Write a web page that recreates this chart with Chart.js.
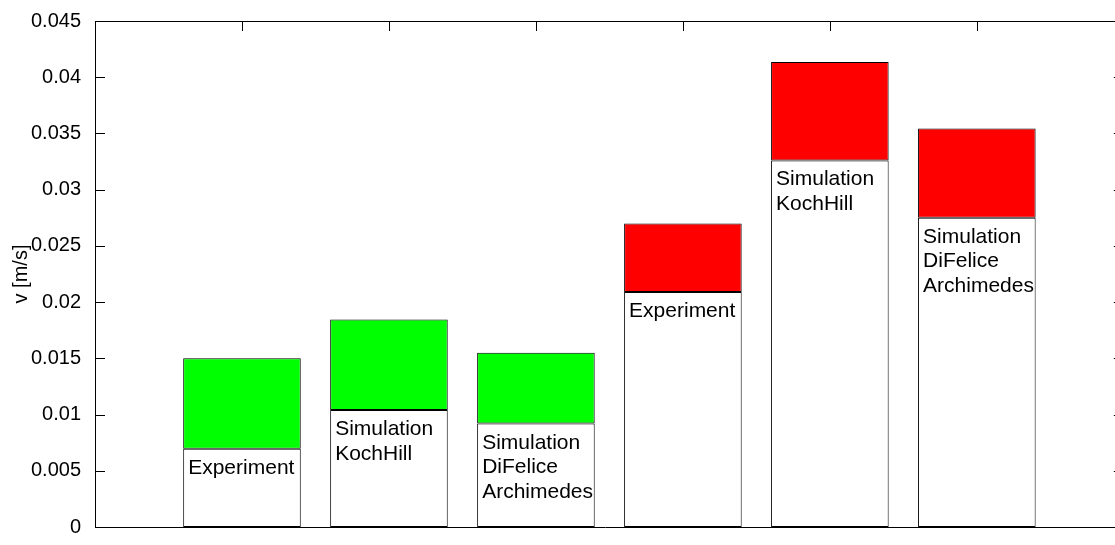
<!DOCTYPE html>
<html>
<head>
<meta charset="utf-8">
<script src="https://cdn.jsdelivr.net/npm/chart.js@4.4.0/dist/chart.umd.min.js"></script>
<style>
  html, body { margin: 0; padding: 0; background: #fff; overflow: hidden; }
  #wrap { width: 1115px; height: 545px; position: relative; }
  canvas { display: block; }
</style>
</head>
<body>
<div id="wrap"><canvas id="c" width="1115" height="545"></canvas></div>
<script>
// Bar positions along the x axis (axis runs from 0 to 7, right end just past the canvas)
const positions = [1, 2, 3, 4, 5, 6];

// Text written inside the lower (white) part of each bar
const barLabels = [
  ['Experiment'],
  ['Simulation', 'KochHill'],
  ['Simulation', 'DiFelice', 'Archimedes'],
  ['Experiment'],
  ['Simulation', 'KochHill'],
  ['Simulation', 'DiFelice', 'Archimedes']
];

// Lower and upper velocity bounds [m/s]
const lowerValues = [0.00695, 0.0104, 0.0092, 0.0209, 0.0326, 0.0275];
const upperValues = [0.0150, 0.01845, 0.0155, 0.0270, 0.04135, 0.03545];

// Fill of the range part: first group green, second group red
const rangeColors = ['#00ff00', '#00ff00', '#00ff00', '#ff0000', '#ff0000', '#ff0000'];

// Y tick labels
const yTickLabels = ['0', '0.005', '0.01', '0.015', '0.02', '0.025', '0.03', '0.035', '0.04', '0.045'];

const FONT = '"Liberation Sans", Arial, Helvetica, sans-serif';
const TICK_LEN = 10;

// Axes box decorations: top edge, inward ticks on all sides
const axesBox = {
  id: 'axesBox',
  beforeDatasetsDraw(chart) {
    const { ctx, chartArea: a, scales: { x, y } } = chart;
    ctx.save();
    ctx.strokeStyle = '#000';
    ctx.lineWidth = 1;
    ctx.beginPath();
    // top edge
    ctx.moveTo(a.left, Math.round(a.top) + 0.5);
    ctx.lineTo(a.right, Math.round(a.top) + 0.5);
    // x ticks at bar positions (top and bottom, pointing inward)
    positions.forEach(p => {
      const px = Math.round(x.getPixelForValue(p)) + 0.5;
      ctx.moveTo(px, a.top);
      ctx.lineTo(px, a.top + TICK_LEN);
      ctx.moveTo(px, a.bottom);
      ctx.lineTo(px, a.bottom - TICK_LEN);
    });
    // y ticks on left and right sides
    const rightAxis = x.getPixelForValue(7);
    yTickLabels.forEach((_, i) => {
      const py = Math.round(y.getPixelForValue(i * 0.005)) + 0.5;
      ctx.moveTo(a.left, py);
      ctx.lineTo(a.left + TICK_LEN, py);
      ctx.moveTo(rightAxis, py);
      ctx.lineTo(rightAxis - TICK_LEN, py);
    });
    ctx.stroke();
    ctx.restore();
  },
  afterDatasetsDraw(chart) {
    const { ctx, chartArea: a } = chart;
    const meta = chart.getDatasetMeta(0);
    ctx.save();
    ctx.fillStyle = '#000';
    ctx.font = '21px ' + FONT;
    ctx.textAlign = 'left';
    ctx.textBaseline = 'alphabetic';
    meta.data.forEach((bar, i) => {
      const left = bar.x - bar.width / 2 + 5;
      barLabels[i].forEach((line, j) => {
        ctx.fillText(line, left, bar.y + 25 + j * 24.5);
      });
    });
    // y axis title
    ctx.font = '20px ' + FONT;
    ctx.translate(21, (a.top + a.bottom) / 2);
    ctx.rotate(-Math.PI / 2);
    ctx.textAlign = 'center';
    ctx.textBaseline = 'middle';
    ctx.fillText('v [m/s]', 0, 0);
    ctx.restore();
  }
};

new Chart(document.getElementById('c'), {
  type: 'bar',
  data: {
    datasets: [
      {
        label: 'lower',
        data: positions.map((p, i) => ({ x: p, y: lowerValues[i] })),
        backgroundColor: '#ffffff',
        borderColor: '#000000',
        borderWidth: 1,
        borderSkipped: false,
        grouped: false,
        barPercentage: 0.8,
        categoryPercentage: 1
      },
      {
        label: 'range',
        data: positions.map((p, i) => ({ x: p, y: [lowerValues[i], upperValues[i]] })),
        backgroundColor: rangeColors,
        borderColor: '#000000',
        borderWidth: 1,
        borderSkipped: false,
        grouped: false,
        barPercentage: 0.8,
        categoryPercentage: 1
      }
    ]
  },
  options: {
    responsive: false,
    animation: false,
    devicePixelRatio: 1,
    layout: { padding: { top: 21, right: 0, bottom: 0, left: 0 } },
    plugins: {
      legend: { display: false },
      tooltip: { enabled: false }
    },
    scales: {
      x: {
        type: 'linear',
        min: 0,
        max: 6.94,
        offset: false,
        grid: { display: false, offset: false },
        ticks: { display: false },
        border: { display: true, color: '#000', width: 1 },
        // ticks only at the bar positions, so bar width follows their spacing
        afterBuildTicks(s) { s.ticks = positions.map(v => ({ value: v })); },
        afterFit(s) { s.height = 8; }
      },
      y: {
        min: 0,
        max: 0.045,
        grid: { display: false },
        border: { display: true, color: '#000', width: 1 },
        ticks: {
          stepSize: 0.005,
          color: '#000',
          padding: 6,
          font: { family: FONT, size: 20 },
          callback: (v, i) => yTickLabels[i]
        },
        afterFit(s) { s.width = 95; }
      }
    }
  },
  plugins: [axesBox]
});
</script>
</body>
</html>
